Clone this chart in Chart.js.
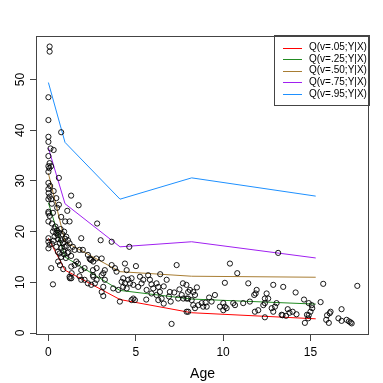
<!DOCTYPE html>
<html>
<head>
<meta charset="utf-8">
<script src="https://cdn.jsdelivr.net/npm/chart.js@4.4.1/dist/chart.umd.min.js"></script>
<style>
  html, body { margin: 0; background: #fff; }
  #wrap { width: 383px; height: 383px; }
</style>
</head>
<body>
<div id="wrap"><canvas id="chart"></canvas></div>
<script>
// observed points (Age, Y)
const ages = [
  0.07, 0.07, 0, 0, 0.73, 0, 0, 0.12, 0.3, 0,
  0.07, 0, 0.05, 0.15, 0, 0.6, 0, 0, 0.1, 0.3,
  0.01, 0.07, 0, 0.16, 0.45, 1.3, 0.6, 0.5, 0.2, 0,
  0.26, 0.07, 0, 0.2, 0.35, 0.26, 0.45, 0.35, 0.54, 0,
  0, 0.07, 0.73, 0.83, 1.02, 1.12, 1.21, 0.93, 1.88, 1.78,
  1.97, 1.4, 1.5, 2.26, 2.36, 2.45, 2.74, 0.64, 0.73, 0.54,
  1.6, 1.69, 1.31, 1.5, 1.88, 2.07, 2.55, 2.55, 0.16, 1.21,
  1.31, 1.78, 1.88, 0.26, 2.07, 2.26, 2.45, 1.73, 1.08, 0.73,
  0.96, 1.21, 2.79, 0.4, 0.5, 0.6, 0.7, 0.8, 0.9, 0.55,
  0.65, 0.75, 0.85, 0.95, 1.05, 1.15, 0.45, 0.3, 0.2, 0.9,
  1.0, 1.1, 1.3, 0.56, 0.66, 0.85, 1.23, 1.33, 0, 0,
  2.99, 3.62, 4.63, 3.05, 2.57, 2.76, 3.14, 3.23, 3.05, 2.57,
  2.76, 2.66, 3.23, 3.14, 3.05, 3.14, 3.62, 3.81, 3.9, 4.38,
  4.48, 5.01, 4.28, 4.19, 4.38, 4.57, 4.67, 4.28, 4.48, 4.76,
  4.86, 5.14, 5.24, 5.43, 5.33, 5.71, 5.81, 6.19, 6.29, 6.38,
  6.19, 6.48, 6.29, 6.77, 6.95, 7.43, 7.63, 7.72, 7.91, 8.0,
  7.34, 3.71, 4.0, 4.76, 4.86, 4.95, 4.09, 7.05, 7.91, 2.4,
  5.62, 5.9, 6.0, 6.6, 6.9, 7.2, 7.5, 7.0, 6.6, 5.6,
  5.9, 6.4, 7.7,
  10.39, 10.81, 10.1, 11.44, 12.87, 13.44, 13.15, 11.92, 11.86, 11.78,
  12.49, 12.39, 12.58, 8.1, 8.29, 8.39, 8.0, 8.2, 8.29, 8.58,
  8.39, 8.77, 8.86, 9.06, 9.34, 9.53, 9.82, 10.01, 10.1, 10.2,
  10.01, 10.58, 10.68, 11.15, 11.53, 8.0, 11.82, 12.01, 12.3, 12.39,
  12.39, 12.78, 12.87, 12.97, 13.06, 13.35, 7.9, 8.5, 9.2, 9.0,
  15.73, 17.68, 14.15, 14.63, 14.9, 15.07, 15.58, 13.7, 13.8, 13.98,
  13.4, 13.6, 14.2, 14.8, 14.9, 15.0, 15.1, 14.87, 14.68, 15.95,
  15.9, 16.05, 16.15, 16.1, 16.78, 16.6, 16.78, 17.07, 17.2, 17.3,
  17.36
];
const values = [
  56.5, 55.5, 46.5, 42.0, 39.6, 38.7, 37.7, 36.4, 36.1, 34.9,
  33.5, 32.9, 32.5, 32.9, 31.8, 30.6, 29.6, 28.4, 29.0, 28.0,
  27.6, 26.9, 26.4, 26.4, 26.6, 27.1, 25.3, 24.7, 25.5, 23.9,
  23.7, 23.1, 22.0, 21.6, 20.6, 20.0, 19.7, 19.0, 19.3, 18.7,
  18.0, 17.4, 18.3, 17.7, 19.0, 18.3, 17.7, 17.0, 18.7, 16.4,
  16.4, 17.0, 16.4, 15.4, 14.7, 14.4, 14.7, 15.7, 15.0, 16.0,
  14.1, 13.7, 13.1, 13.4, 12.4, 12.8, 12.4, 11.4, 12.8, 11.1,
  10.8, 11.2, 10.5, 9.6, 10.5, 9.8, 9.5, 25.2, 24.1, 22.9,
  22.0, 22.0, 21.6, 21.0, 20.2, 19.8, 20.5, 19.5, 20.0, 18.5,
  17.8, 16.8, 16.2, 18.6, 17.2, 16.0, 17.0, 18.2, 17.6, 15.5,
  14.8, 15.8, 15.2, 14.1, 13.4, 12.6, 10.8, 11.8, 16.7, 23.6,
  18.3, 18.0, 17.0, 14.7, 14.1, 12.8, 11.8, 12.4, 11.4, 11.1,
  10.5, 9.8, 10.5, 9.1, 8.1, 7.3, 13.4, 12.8, 12.1, 13.7,
  12.4, 13.2, 10.8, 10.1, 9.8, 10.5, 9.8, 9.1, 8.8, 10.8,
  9.5, 9.1, 11.1, 10.5, 9.8, 11.4, 10.5, 9.8, 9.1, 8.1,
  7.5, 6.8, 6.5, 10.5, 8.1, 6.8, 7.5, 6.8, 6.8, 8.1,
  13.4, 8.8, 8.5, 6.5, 6.8, 6.5, 6.2, 1.8, 4.2, 14.5,
  8.5, 7.8, 8.8, 9.2, 7.2, 8.0, 8.6, 6.2, 5.8, 6.6,
  9.6, 11.6, 9.8,
  13.7, 11.8, 9.9, 9.8, 9.5, 9.1, 15.8, 8.5, 7.8, 7.5,
  7.8, 6.8, 6.8, 8.5, 8.1, 7.5, 6.8, 6.5, 5.5, 5.5,
  4.9, 5.9, 5.2, 5.2, 6.2, 7.5, 5.2, 5.9, 5.2, 4.9,
  4.5, 5.9, 5.5, 5.9, 6.2, 4.2, 4.2, 4.5, 5.5, 5.9,
  3.1, 4.9, 4.2, 5.2, 5.9, 3.6, 9.5, 9.0, 7.0, 6.0,
  9.7, 9.3, 8.0, 6.6, 5.9, 5.5, 6.1, 4.7, 4.0, 4.2,
  3.5, 3.4, 3.7, 3.6, 3.5, 4.2, 4.9, 2.9, 2.0, 3.5,
  2.6, 2.0, 4.2, 3.9, 4.7, 2.9, 2.4, 2.6, 2.3, 2.1,
  1.9
];

// fitted quantile curves, evaluated at these ages
const knotAges = [0, 0.95, 4.1, 8.2, 15.3];
const q05 = [18.7, 12.4, 6.6, 4.0, 2.8];
const q25 = [25.7, 15.0, 8.4, 6.7, 5.7];
const q50 = [31.5, 18.0, 12.1, 11.2, 11.0];
const q75 = [36.5, 25.5, 17.0, 18.0, 14.8];
const q95 = [49.4, 37.6, 26.4, 30.6, 27.0];

const quantLabels = ['Q(v=.05;Y|X)', 'Q(v=.25;Y|X)', 'Q(v=.50;Y|X)', 'Q(v=.75;Y|X)', 'Q(v=.95;Y|X)'];
const quantColors = ['#FF0000', '#228B22', '#A87D33', '#A020F0', '#1E90FF'];
const xTicks = [0, 5, 10, 15];
const yTicks = [0, 10, 20, 30, 40, 50];

const FONT = "'Liberation Sans', Arial, sans-serif";
const AXIS = '#444';

const quantDatasets = [q05, q25, q50, q75, q95].map((q, i) => ({
  label: quantLabels[i],
  data: knotAges.map((a, j) => ({ x: a, y: q[j] })),
  showLine: true,
  borderColor: quantColors[i],
  backgroundColor: quantColors[i],
  borderWidth: 1,
  pointRadius: 0,
  tension: 0,
}));

// R-style frame, rotated y labels and boxed legend
const rFrame = {
  id: 'rFrame',
  afterDraw(chart) {
    const { ctx, chartArea: a, scales } = chart;
    ctx.save();
    ctx.strokeStyle = AXIS;
    ctx.lineWidth = 1;
    ctx.strokeRect(a.left + 0.5, a.top + 0.5, a.right - a.left - 1, a.bottom - a.top - 1);

    ctx.fillStyle = '#000';
    ctx.font = `12px ${FONT}`;
    ctx.textAlign = 'center';
    ctx.textBaseline = 'middle';
    yTicks.forEach(v => {
      const y = scales.y.getPixelForValue(v);
      ctx.save();
      ctx.translate(21, y);
      ctx.rotate(-Math.PI / 2);
      ctx.fillText(String(v), 0, 0);
      ctx.restore();
    });

    const w = 95, h = 70;
    const lx = a.right - w, ly = a.top - 1;
    ctx.strokeStyle = AXIS;
    ctx.strokeRect(lx + 0.5, ly + 0.5, w, h);
    ctx.font = `10px ${FONT}`;
    ctx.textAlign = 'left';
    quantLabels.forEach((label, i) => {
      const y = ly + 12.5 + i * 11.6;
      ctx.strokeStyle = quantColors[i];
      ctx.beginPath();
      ctx.moveTo(lx + 9, Math.round(y) + 0.5);
      ctx.lineTo(lx + 28, Math.round(y) + 0.5);
      ctx.stroke();
      ctx.fillStyle = '#000';
      ctx.fillText(label, lx + 35, y);
    });
    ctx.restore();
  },
};

new Chart(document.getElementById('chart'), {
  type: 'scatter',
  data: {
    datasets: [
      {
        label: 'obs',
        data: ages.map((a, i) => ({ x: a, y: values[i] })),
        pointStyle: 'circle',
        pointRadius: 2.6,
        borderColor: '#000',
        backgroundColor: 'rgba(0,0,0,0)',
        borderWidth: 0.9,
      },
      ...quantDatasets,
    ],
  },
  options: {
    responsive: true,
    maintainAspectRatio: false,
    animation: false,
    layout: { padding: { top: 36, right: 14, left: 0, bottom: 0 } },
    plugins: { legend: { display: false }, tooltip: { enabled: false } },
    scales: {
      x: {
        type: 'linear',
        min: -0.71,
        max: 18.35,
        afterBuildTicks: s => { s.ticks = xTicks.map(v => ({ value: v })); },
        afterFit: s => { s.height = 48; },
        border: { display: false },
        grid: { drawOnChartArea: false, drawTicks: true, tickLength: 6, color: AXIS },
        ticks: { color: '#000', font: { family: FONT, size: 12 }, padding: 4, maxRotation: 0 },
        title: { display: true, text: 'Age', color: '#000', font: { family: FONT, size: 14 }, padding: { top: 0, bottom: 0 } },
      },
      y: {
        type: 'linear',
        min: -0.39,
        max: 58.58,
        afterBuildTicks: s => { s.ticks = yTicks.map(v => ({ value: v })); },
        afterFit: s => { s.width = 36; },
        border: { display: false },
        grid: { drawOnChartArea: false, drawTicks: true, tickLength: 6, color: AXIS },
        ticks: { display: false },
      },
    },
  },
  plugins: [rFrame],
});
</script>
</body>
</html>
